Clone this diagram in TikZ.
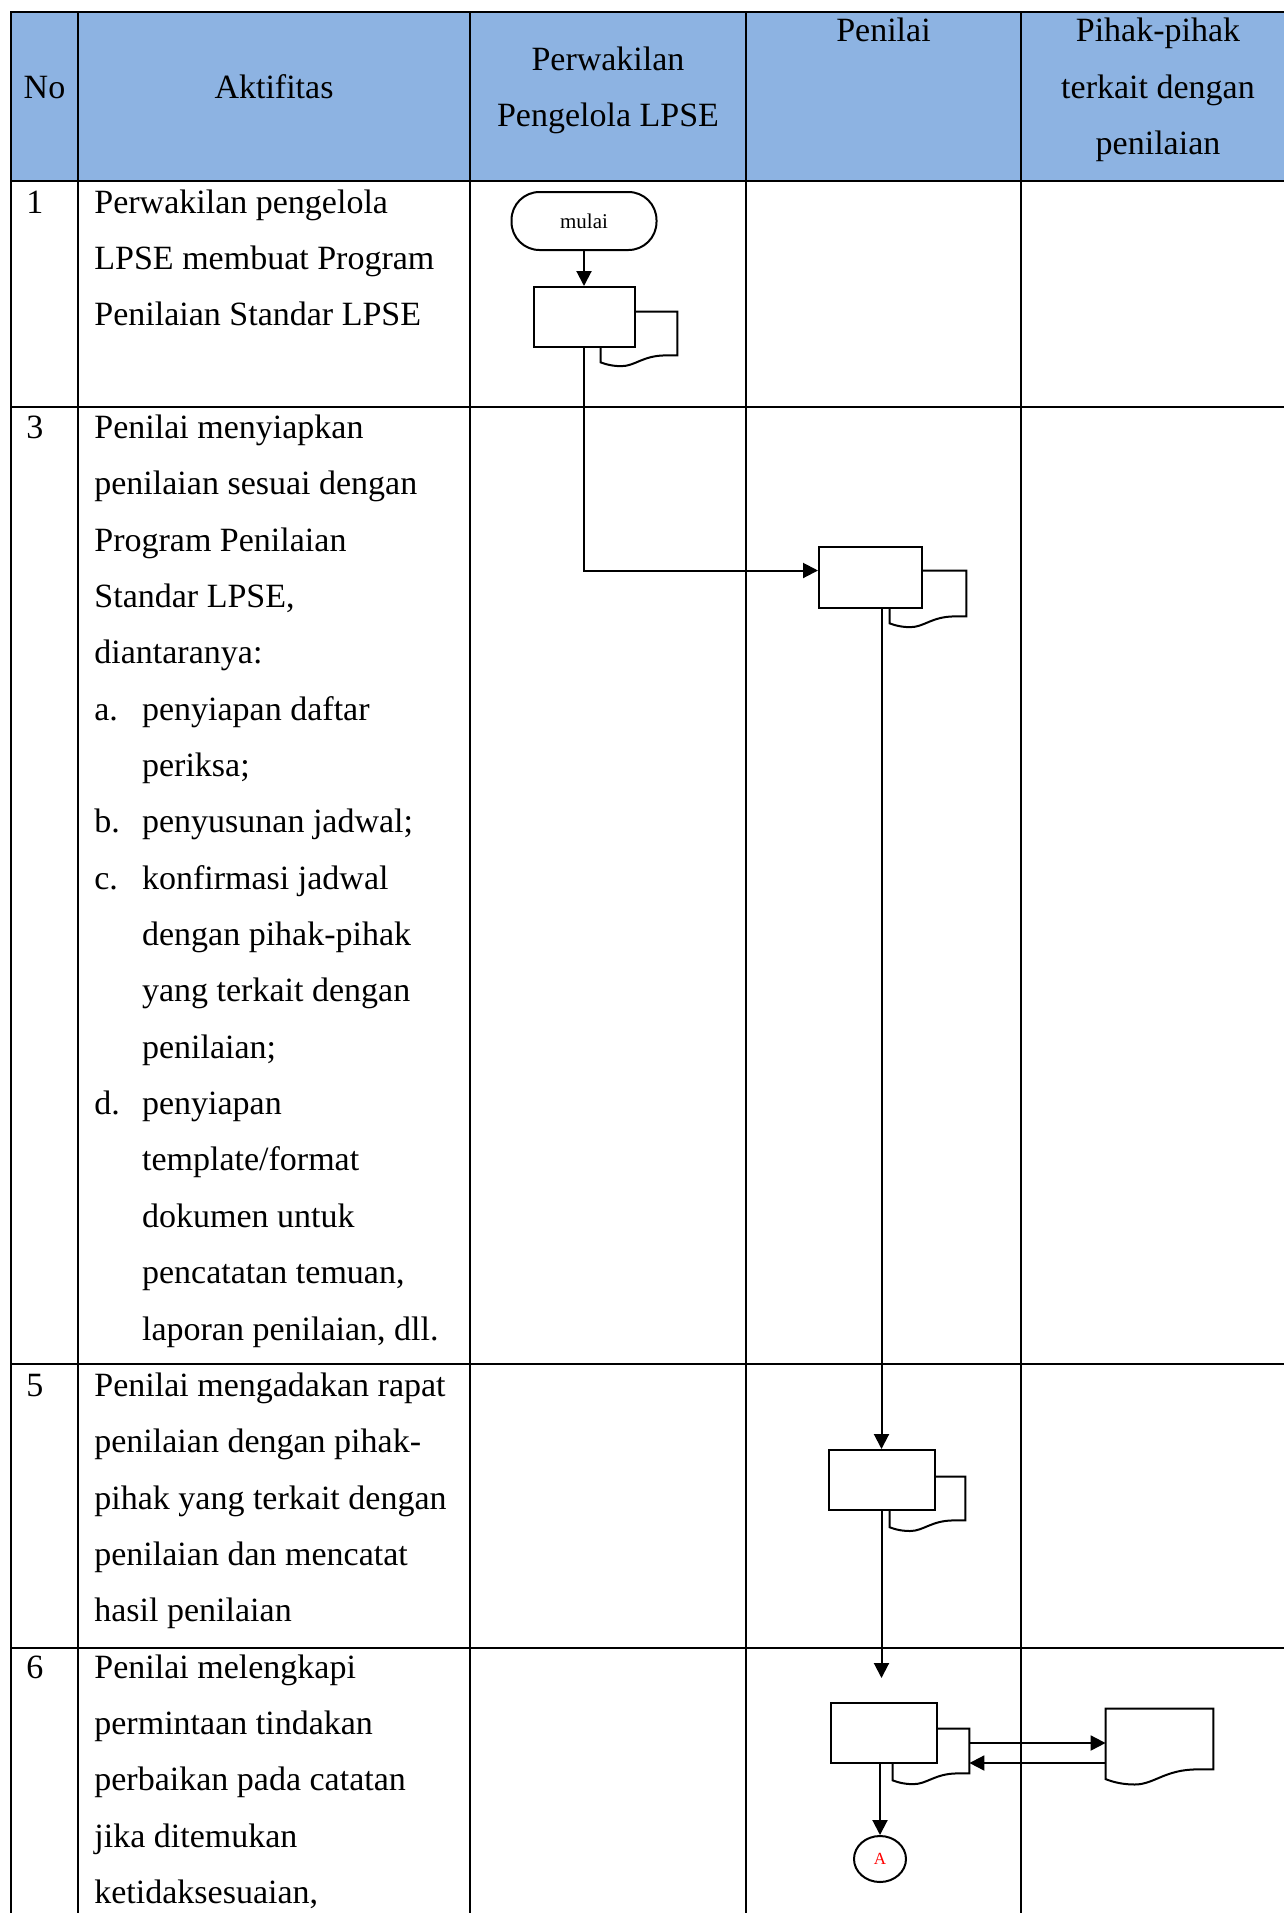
\documentclass[tikz,border=0pt]{standalone}
\usepackage{fontspec}
\setmainfont{Liberation Serif}
\usetikzlibrary{arrows.meta,positioning,shapes.geometric,calc}
\definecolor{headblue}{HTML}{8DB3E2}
\newcommand{\docoutline}[1]{%
  \draw[shp,fill=white] let \p1=(#1.south west), \p2=(#1.south east), \n1={\x2-\x1} in
    (#1.north west) -- (#1.north east) -- (\p2) -- (\x2-0.15*\n1,\y2)
    .. controls (\x2-0.45*\n1,\y2) and (\x1+0.45*\n1,\y1-0.14*\n1) .. (\x1+0.27*\n1,\y1-0.14*\n1)
    .. controls (\x1+0.12*\n1,\y1-0.14*\n1) and (\x1+0.03*\n1,\y1-0.1*\n1) .. (\x1,\y1-0.09*\n1) -- cycle;}

\begin{document}
\begin{tikzpicture}[
  x=0.5pt,y=-0.5pt,
  tabline/.style={line width=0.6pt},
  shp/.style={line width=1pt},
  box/.style={shp,draw,fill=white,inner sep=0pt},
  docnode/.style={inner sep=0pt},
  term/.style={shp,draw,fill=white,rounded corners=14pt,minimum width=72.5pt,minimum height=29pt,font=\fontsize{10.5}{12}\selectfont},
  conn/.style={shp,draw,ellipse,minimum width=26pt,minimum height=23pt,inner sep=0pt,text=red,font=\fontsize{8.5}{10}\selectfont},
  arr/.style={-{Triangle[length=7.5pt,width=7.5pt]},line width=1pt},
  head/.style={anchor=base,inner sep=0pt,align=center,font=\fontsize{17}{28.175}\selectfont},
  cell/.style={anchor=base west,inner sep=0pt,align=left,font=\fontsize{17}{28.175}\selectfont}
]
\useasboundingbox (0,0) rectangle (1284,1913);

\fill[headblue] (11,12) rectangle (1284,181);
\draw[tabline] (1284,12) -- (11,12) -- (11,1913);
\foreach \x in {78,470,746,1021} \draw[tabline] (\x,12) -- (\x,1913);
\foreach \y in {181,407,1364,1648} \draw[tabline] (11,\y) -- (1284,\y);

% multi-line texts sit on the baseline of their last line
\node[head] (hno) at (44.5,98) {No};
\node[head] (hakt) at (274,98) {Aktifitas};
\node[head] (hper) at (608,126.4) {Perwakilan\\Pengelola LPSE};
\node[head] (hpen) at (883.5,41.7) {Penilai};
\node[head] (hpih) at (1158,154.4) {Pihak-pihak\\terkait dengan\\penilaian};

\node[cell] (no1) at (26,213) {1};
\node[cell] (akt1) at (94,325.7) {Perwakilan pengelola\\LPSE membuat Program\\Penilaian Standar LPSE};
\node[cell] (no3) at (26,438.4) {3};
\node[cell] (akt3) at (94,663.8) {Penilai menyiapkan\\penilaian sesuai dengan\\Program Penilaian\\Standar LPSE,\\diantaranya:};
\node[cell] (la) at (94,720.2) {a.};
\node[cell] (ia) at (141.7,776.55) {penyiapan daftar\\periksa;};
\node[cell] (lb) at (94,832.9) {b.};
\node[cell] (ib) at (141.7,832.9) {penyusunan jadwal;};
\node[cell] (lc) at (94,889.2) {c.};
\node[cell] (ic) at (141.7,1058.25) {konfirmasi jadwal\\dengan pihak-pihak\\yang terkait dengan\\penilaian;};
\node[cell] (ld) at (94,1114.6) {d.};
\node[cell] (id) at (141.7,1340) {penyiapan\\template/format\\dokumen untuk\\pencatatan temuan,\\laporan penilaian, dll.};
\node[cell] (no5) at (26,1396.4) {5};
\node[cell] (akt5) at (94,1621.8) {Penilai mengadakan rapat\\penilaian dengan pihak-\\pihak yang terkait dengan\\penilaian dan mencatat\\hasil penilaian};
\node[cell] (no6) at (26,1678.1) {6};
\node[cell] (akt6) at (94,1903.5) {Penilai melengkapi\\permintaan tindakan\\perbaikan pada catatan\\jika ditemukan\\ketidaksesuaian,};

\node[term] (mulai) at (584,221) {mulai};
\node[docnode,minimum width=38pt,minimum height=21.5pt] (progdoc) at (639,333.5) {};
\docoutline{progdoc}
\node[box,minimum width=50.5pt,minimum height=30pt] (prog) at (584,317) {};
\node[docnode,minimum width=38pt,minimum height=22.5pt] (siapdoc) at (928,593.5) {};
\docoutline{siapdoc}
\node[box,minimum width=51.5pt,minimum height=30.5pt] (siap) at (870.5,577.5) {};
\node[docnode,minimum width=37.5pt,minimum height=21.5pt] (rapatdoc) at (927.5,1498.5) {};
\docoutline{rapatdoc}
\node[box,minimum width=53pt,minimum height=30pt] (rapat) at (881.5,1480) {};
\node[docnode,minimum width=38pt,minimum height=22pt] (lapdoc) at (931,1751) {};
\docoutline{lapdoc}
\node[box,minimum width=53pt,minimum height=30pt] (lengkap) at (884,1733) {};
\node[docnode,minimum width=53.5pt,minimum height=30pt] (pihak) at (1159.5,1739) {};
\docoutline{pihak}
\node[conn] (konA) at (880,1859) {A};
\coordinate (ujung) at (881.5,1678);

\draw[arr] (mulai) -- (prog);
\draw[arr] (prog.south) |- ([yshift=3.5pt]siap.west);
\draw[arr] (siap.south -| rapat.north) -- (rapat.north);
\draw[arr] (rapat.south) -- (ujung);
\draw[arr] (lengkap.south -| konA.north) -- (konA.north);
\draw[arr] ([yshift=4pt]lapdoc.east) -- ([yshift=4pt]lapdoc.east -| pihak.west);
\draw[arr] ([yshift=-6pt]lapdoc.east -| pihak.west) -- ([yshift=-6pt]lapdoc.east);
\end{tikzpicture}
\end{document}
